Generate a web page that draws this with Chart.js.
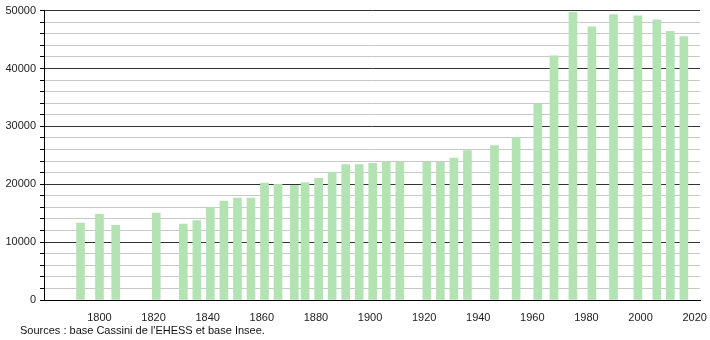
<!DOCTYPE html>
<html>
<head>
<meta charset="utf-8">
<script src="https://cdn.jsdelivr.net/npm/chart.js@4/dist/chart.umd.min.js"></script>
<style>
  html, body { margin: 0; padding: 0; background: #fff; }
  #wrap { position: relative; width: 710px; height: 340px; }
  #src { position: absolute; left: 20px; top: 324px; font: 11px "Liberation Sans", Arial, sans-serif; line-height: 12px; color: #111; white-space: nowrap; }
</style>
</head>
<body>
<div id="wrap">
  <canvas id="c" width="710" height="340"></canvas>
  <div id="src">Sources : base Cassini de l'EHESS et base Insee.</div>
</div>
<script>
const years = [1793, 1800, 1806, 1821, 1831, 1836, 1841, 1846, 1851, 1856, 1861, 1866, 1872, 1876, 1881, 1886, 1891, 1896, 1901, 1906, 1911, 1921, 1926, 1931, 1936, 1946, 1954, 1962, 1968, 1975, 1982, 1990, 1999, 2006, 2011, 2016];
const population = [13300, 14800, 12900, 15000, 13100, 13700, 16000, 17100, 17600, 17600, 20200, 20000, 19800, 20300, 21000, 22100, 23400, 23400, 23600, 23800, 23800, 23800, 23800, 24500, 25800, 26700, 28100, 33800, 42200, 49700, 47200, 49300, 49100, 48400, 46400, 45500];
const xTickLabels = [1800, 1820, 1840, 1860, 1880, 1900, 1920, 1940, 1960, 1980, 2000, 2020];
const yTickLabels = [0, 10000, 20000, 30000, 40000, 50000];

const points = years.map((y, i) => ({ x: y, y: population[i] }));
const font = { family: "'Liberation Sans', Arial, sans-serif", size: 11 };

new Chart(document.getElementById('c'), {
  type: 'bar',
  data: {
    datasets: [{
      data: points,
      backgroundColor: 'rgb(179,227,179)',
      borderWidth: 0,
      barThickness: 8
    }]
  },
  options: {
    responsive: false,
    animation: false,
    layout: { padding: { top: 10, right: 9, left: 0, bottom: 0 } },
    plugins: { legend: { display: false }, tooltip: { enabled: false } },
    scales: {
      x: {
        type: 'linear',
        min: 1779.5,
        max: 2022,
        offset: false,
        afterBuildTicks: (scale) => { scale.ticks = xTickLabels.map(v => ({ value: v })); },
        ticks: { font, color: '#222', padding: 3, maxRotation: 0, autoSkip: false, callback: (v) => String(v) },
        grid: { display: false, offset: false },
        border: { display: true, color: '#000', width: 1 },
        afterFit: (scale) => { scale.height = 40; }
      },
      y: {
        min: 0,
        max: 50000,
        ticks: {
          stepSize: 2000,
          font, color: '#222', padding: 4, autoSkip: false,
          callback: (v) => yTickLabels.includes(v) ? String(v) : ''
        },
        grid: {
          color: (ctx) => (ctx.tick && ctx.tick.value % 10000 === 0) ? '#333' : '#c8c8c8',
          tickColor: '#000',
          tickLength: 4,
          lineWidth: 1
        },
        border: { display: true, color: '#000', width: 1 },
        afterFit: (scale) => { scale.width = 44; }
      }
    }
  }
});
</script>
</body>
</html>
